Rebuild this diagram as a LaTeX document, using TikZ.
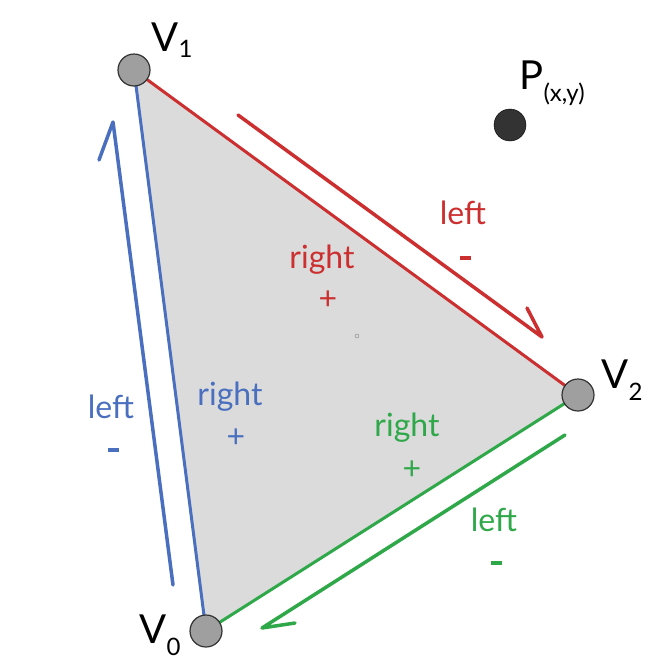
\documentclass[tikz,border=0pt]{standalone}
\usepackage{fontspec}
\setmainfont{Lato}
\definecolor{cr}{HTML}{CC2F2F}
\definecolor{cb}{HTML}{4A6FBF}
\definecolor{cg}{HTML}{2FA84A}
\begin{document}
\begin{tikzpicture}[x=1pt,y=-1pt,
 vert/.style={circle,draw=black!80,fill=gray!75,line width=1.2pt,minimum size=32pt,inner sep=0pt},
 edge/.style={line width=3pt},
 arr/.style={line width=3.5pt,line cap=round,line join=round},
 lab/.style={font=\fontsize{32}{34}\selectfont},
 mn/.style={minimum width=0pt,inner sep=0pt},
 vl/.style={font=\fontsize{40}{42}\selectfont}]
\useasboundingbox (0,0) rectangle (670,670);
\coordinate (V1) at (134,70);
\coordinate (V2) at (578,395);
\coordinate (V0) at (206,631);
\fill[gray!28] (V1)--(V2)--(V0)--cycle;
\draw[edge,cr] (V1)--(V2);
\draw[edge,cg] (V2)--(V0);
\draw[edge,cb] (V0)--(V1);
\node[vert] (n1) at (V1) {};
\node[vert] (n2) at (V2) {};
\node[vert] (n0) at (V0) {};
\node[circle,fill=black!80,draw=black,minimum size=32pt,inner sep=0pt] (P) at (510,125) {};
\node[circle,draw=gray,minimum size=4pt,inner sep=0pt] (c) at (357,336) {};
\coordinate (ra) at (238,115); \coordinate (rb) at (542,337); \coordinate (rc) at (527,308);
\draw[arr,cr] (ra)--(rb)--(rc);
\coordinate (ba) at (173,585); \coordinate (bb) at (113,122); \coordinate (bc) at (99,160);
\draw[arr,cb] (ba)--(bb)--(bc);
\coordinate (ga) at (565,435); \coordinate (gb) at (262,628); \coordinate (gc) at (295,623);
\draw[arr,cg] (ga)--(gb)--(gc);
\node[vl] (t1) at (172,40) {V\raisebox{-0.3ex}{\fontsize{24}{26}\selectfont 1}};
\node[vl] (t2) at (622,380) {V\raisebox{-0.6ex}{\fontsize{24}{26}\selectfont 2}};
\node[vl] (t0) at (160,635) {V\raisebox{-0.6ex}{\fontsize{24}{26}\selectfont 0}};
\node[vl,anchor=west] (tp) at (516,83) {P\raisebox{-0.6ex}{\fontsize{24}{26}\selectfont (x,y)}};
\node[lab,cr] at (463,213) {left}; \node[mn,fill=cr,minimum width=11pt,minimum height=3.5pt] at (465,258) {};
\node[lab,cr] at (322,260) {right}; \node[lab,cr] at (328,300) {+};
\node[lab,cb] at (111,407) {left}; \node[mn,fill=cb,minimum width=11pt,minimum height=3.5pt] at (113,450) {};
\node[lab,cb] at (230,397) {right}; \node[lab,cb] at (236,438) {+};
\node[lab,cg] at (407,428) {right}; \node[lab,cg] at (412,470) {+};
\node[lab,cg] at (494,520) {left}; \node[mn,fill=cg,minimum width=11pt,minimum height=3.5pt] at (496,563) {};
\end{tikzpicture}
\end{document}
